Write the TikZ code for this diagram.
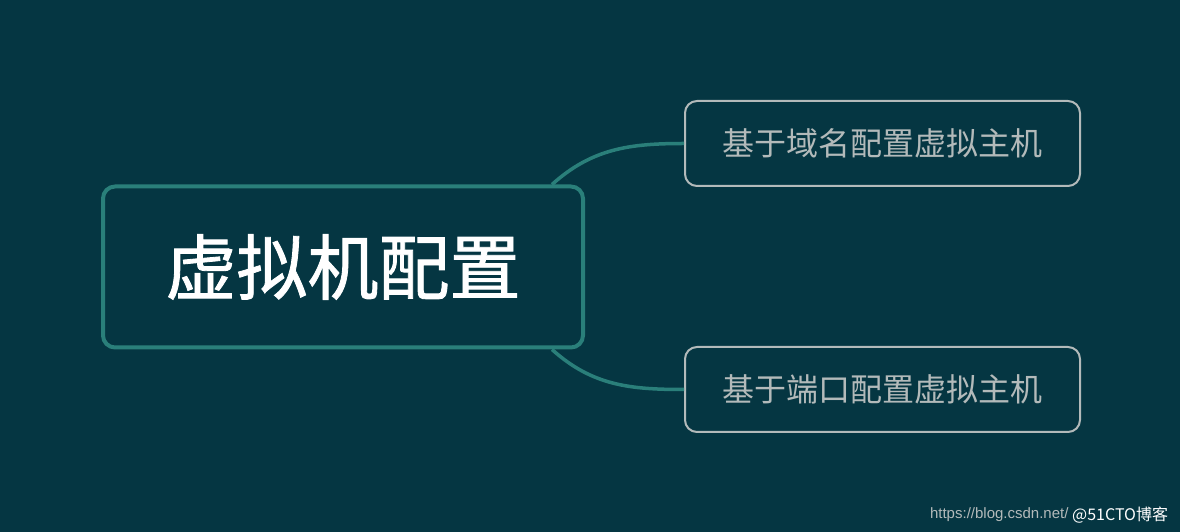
\documentclass[tikz,border=0pt]{standalone}
\usepackage{fontspec}
\usepackage{tikz}
\usetikzlibrary{positioning}
\newfontfamily\cjk{Noto Sans CJK SC}
\newfontfamily\cjkroot[FakeBold=1.2]{Noto Sans CJK SC}
\setmainfont{Liberation Sans}
\definecolor{bgteal}{HTML}{053642}
\definecolor{linkteal}{HTML}{2A7F7A}
\definecolor{leafgray}{HTML}{B3BABA}

\begin{document}
\begin{tikzpicture}[
    root/.style={draw=linkteal, line width=4pt, rounded corners=12pt, minimum width=480pt, minimum height=161pt, text=white, font=\cjkroot\fontsize{71}{71}\selectfont},
    leaf/.style={draw=leafgray, line width=2pt, rounded corners=12pt, minimum width=395pt, minimum height=85pt, text=leafgray, font=\cjk\fontsize{32}{32}\selectfont},
    link/.style={draw=linkteal, line width=3.5pt},
    x=1pt,y=1pt
    ]
    \fill[bgteal] (0, 0) rectangle (1180, 532);
    \node[root] (vm) at (343, 265) {虚拟机配置};
    \node[leaf] (domain) at (882.5, 388.5) {基于域名配置虚拟主机};
    \node[leaf] (port) at (882.5, 142.5) {基于端口配置虚拟主机};
    \draw[link] ([xshift=-33pt]vm.north east) to[out=42, in=180] (domain.west);
    \draw[link] ([xshift=-33pt]vm.south east) to[out=-42, in=180] (port.west);
    \node[anchor=east, text=leafgray, font=\fontsize{15}{15}\selectfont] (url) at (1072, 17) {https://blog.csdn.net/};
    \node[anchor=west, inner sep=0pt, text=white, font=\cjk\fontsize{16}{16}\selectfont, right=0pt of url] (mark) {@51CTO博客};
  \end{tikzpicture}
\end{document}
